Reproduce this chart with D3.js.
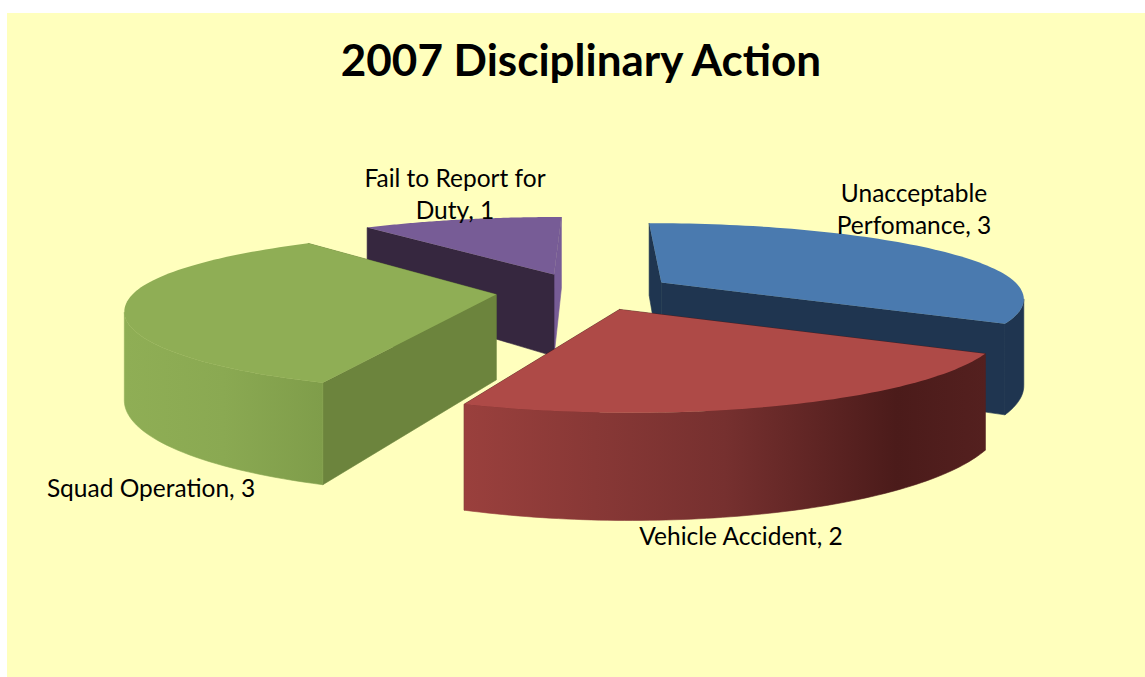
<!DOCTYPE html>
<html>
<head>
<meta charset="utf-8">
<script src="https://cdn.jsdelivr.net/npm/d3@7"></script>
<style>
html, body { margin: 0; padding: 0; background: #fff; }
svg { display: block; }
text { font-family: Lato, "Open Sans", sans-serif; fill: #000; }
</style>
</head>
<body>
<div id="chart"></div>
<script>
// chart data
var categories = ["Unacceptable Perfomance", "Vehicle Accident", "Squad Operation", "Fail to Report for Duty"];
var values = [3, 2, 3, 1];
var title = "2007 Disciplinary Action";

// colours: top face, cut faces (first edge, last edge), arc wall gradient
var topColors = ["#4a7aaf", "#ae4a47", "#8fae55", "#775c96"];
var cutColors = [
    ["#1f3550", "#1f3550"],
    ["#4f1d1c", "#4f1d1c"],
    ["#6c843d", "#6c843d"],
    ["#36273f", "#775c96"]
];
var wallStops = [
    [[0, "#1f3550"], [1, "#1f3550"]],
    [[0, "#9a403d"], [0.5, "#76302f"], [0.83, "#4b1b1a"], [1, "#54201f"]],
    [[0, "#8fae55"], [0.5, "#8aa952"], [1, "#7f9d4a"]],
    [[0, "#36273f"], [1, "#36273f"]]
];

// svg setup
var w = 1145, h = 677;
var svg = d3.select("#chart").append("svg").attr("width", w).attr("height", h);
var defs = svg.append("defs");

svg.append("rect")
    .attr("x", 7).attr("y", 13)
    .attr("width", w - 7).attr("height", h - 13)
    .attr("fill", "#ffffbd");

// perspective of the pie plane, worked out from the picture
var horizon = -163, vanishX = 570, planeT = 463;
var scaleX = 0.795, scaleY = 0.16;    // size of unit radius on the plane
var frontStretch = 1.1;               // near half of the rim comes out deeper than the far half
var centerX = 0.043, centerY = -0.12; // pie centre on the plane
var explodes = [0.248, 0.26, 0.25, 0.26];
var wallK = 0.187;                    // wall height grows with distance from the horizon

// small angle correction of the slice edges, in degrees (start, end)
var edgeFix = [[0, 0], [-1.5, 1.5], [1.5, 2.6], [2.6, 1]];

function project(px, py) {
    var p = planeT / (1 - scaleY * py);
    return [vanishX + scaleX * px * p, p + horizon];
}

// point of a slice at radius r, angle a (clockwise from the back)
function slicePoint(d, r, a) {
    var mid = (d.startAngle + d.endAngle) / 2;
    var e = explodes[d.index];
    var ry = -r * Math.cos(a);
    if (ry > 0) ry *= frontStretch;
    var px = centerX + e * Math.sin(mid) + r * Math.sin(a);
    var py = centerY - e * Math.cos(mid) + ry;
    return project(px, py);
}

function drop(pt) {
    return [pt[0], pt[1] + wallK * (pt[1] - horizon)];
}

var line = d3.line();
var pie = d3.pie().sort(null).value(d => d);
var arcs = pie(values);

function arcPoints(d) {
    var n = 80;
    var a0 = d.startAngle + edgeFix[d.index][0] * Math.PI / 180;
    var a1 = d.endAngle + edgeFix[d.index][1] * Math.PI / 180;
    return d3.range(n + 1).map(i => slicePoint(d, 1, a0 + (a1 - a0) * i / n));
}

function drawSlice(d) {
    var i = d.index;
    var g = svg.append("g");
    var apex = slicePoint(d, 0, 0);
    var rim = arcPoints(d);

    // horizontal gradient for the curved wall
    var grad = defs.append("linearGradient")
        .attr("id", "wall" + i)
        .attr("gradientUnits", "userSpaceOnUse")
        .attr("x1", d3.min(rim, p => p[0])).attr("x2", d3.max(rim, p => p[0]))
        .attr("y1", 0).attr("y2", 0);
    wallStops[i].forEach(s => grad.append("stop").attr("offset", s[0]).attr("stop-color", s[1]));

    // radial walls, the far one first
    [[rim[rim.length - 1], cutColors[i][1]], [rim[0], cutColors[i][0]]].forEach(e => {
        g.append("path")
            .attr("d", line([apex, e[0], drop(e[0]), drop(apex)]) + "Z")
            .attr("fill", e[1])
            .attr("stroke", e[1])
            .attr("stroke-width", 0.6);
    });

    // curved wall, only the part of the rim facing the viewer (x falling as the angle grows)
    var front = rim.filter((p, j) => (j < rim.length - 1 && rim[j + 1][0] < p[0]) || (j > 0 && p[0] < rim[j - 1][0]));
    if (front.length > 1 && i !== 3) {
        g.append("path")
            .attr("d", line(front.concat(front.map(drop).reverse())) + "Z")
            .attr("fill", "url(#wall" + i + ")")
            .attr("stroke", "url(#wall" + i + ")")
            .attr("stroke-width", 0.6);
    }

    // top face
    g.append("path")
        .attr("d", line([apex].concat(rim)) + "Z")
        .attr("fill", topColors[i]);
}

// back slices first
[3, 0, 2, 1].forEach(i => drawSlice(arcs[i]));

// title
svg.append("text")
    .attr("x", 581).attr("y", 76)
    .attr("text-anchor", "middle")
    .attr("font-size", 44)
    .attr("font-weight", 700)
    .text(title);

// data labels
var labelLines = [
    [categories[0].split(" ")[0], categories[0].split(" ")[1] + ", " + values[0]],
    [categories[1] + ", " + values[1]],
    [categories[2] + ", " + values[2]],
    ["Fail to Report for", "Duty, " + values[3]]
];
var labelX = [914, 741, 151, 455];
var labelY = [202, 545, 497, 187];

labelLines.forEach((lines, i) => {
    lines.forEach((t, j) => {
        svg.append("text")
            .attr("x", labelX[i])
            .attr("y", labelY[i] + j * 32)
            .attr("text-anchor", "middle")
            .attr("font-size", 24.5)
            .text(t);
    });
});
</script>
</body>
</html>
